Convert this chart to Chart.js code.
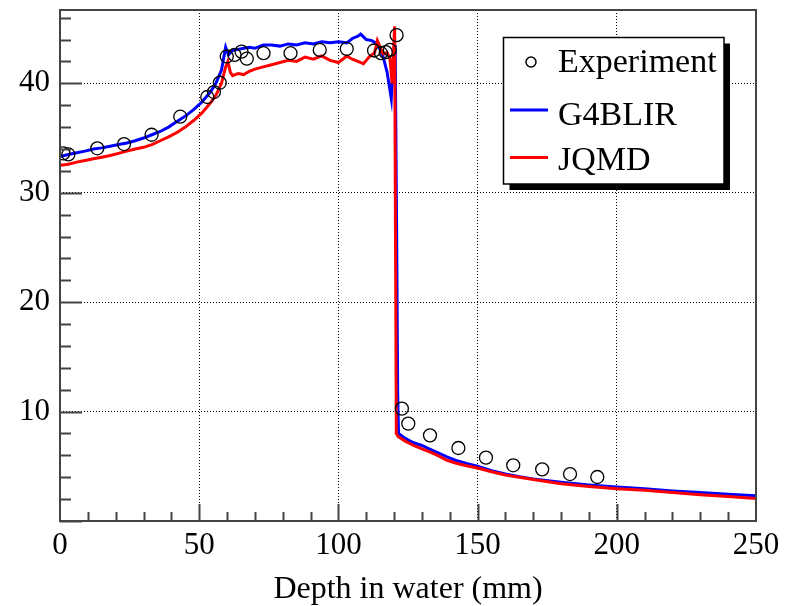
<!DOCTYPE html>
<html>
<head>
<meta charset="utf-8">
<script src="https://cdn.jsdelivr.net/npm/chart.js@4"></script>
<style>
  body { margin: 0; background: #fff; }
  canvas { display: block; }
</style>
</head>
<body>
<canvas id="doseChart" width="790" height="606"></canvas>
<script>
// Experiment (open circles)
const expDepth = [1.2, 3, 13.4, 23, 32.9, 43.2, 52.9, 55.3, 57.4, 59.9, 62.7, 65.2, 67.1, 73.1, 82.8, 93.3, 103, 112.8, 115.3, 117, 118.5, 120.9, 122.8, 125.1, 132.9, 143.1, 153, 162.8, 173.2, 183.2, 193];
const expDose = [33.6, 33.5, 34.06, 34.45, 35.3, 36.95, 38.75, 39.2, 40.05, 42.45, 42.6, 42.9, 42.25, 42.75, 42.75, 43.05, 43.15, 43.0, 42.75, 42.85, 43.05, 44.4, 10.27, 8.9, 7.83, 6.67, 5.79, 5.09, 4.72, 4.29, 4.02];

// G4BLIR (blue)
const g4Depth = [0, 3, 6, 9, 12, 15, 18, 21, 24, 27, 30, 33, 36, 39, 42, 45, 48, 51, 54, 56, 58, 59.5, 60.5, 62, 64, 66, 68, 70, 73, 76, 79, 82, 85, 88, 91, 94, 97, 100, 103, 105, 107, 108, 110, 112, 114, 116, 117.5, 119, 119.8, 120.4, 120.9, 121.3, 121.6, 124, 127, 130, 133, 136, 139, 142, 146, 150, 155, 160, 165, 170, 180, 190, 200, 210, 220, 230, 240, 250];
const g4Dose = [33.3, 33.5, 33.65, 33.8, 34.0, 34.1, 34.25, 34.4, 34.55, 34.75, 35.0, 35.3, 35.6, 36.0, 36.5, 37.0, 37.6, 38.3, 39.2, 40.0, 41.2, 43.3, 42.6, 43.0, 43.1, 43.2, 43.3, 43.2, 43.5, 43.5, 43.4, 43.6, 43.5, 43.7, 43.6, 43.8, 43.7, 43.8, 43.7, 44.1, 44.3, 44.5, 44.0, 43.9, 43.6, 42.5, 41.0, 38.6, 42.5, 43.5, 27.0, 11.6, 8.0, 7.55, 7.15, 6.9, 6.55, 6.2, 5.85, 5.55, 5.25, 5.0, 4.6, 4.3, 4.05, 3.85, 3.55, 3.3, 3.1, 2.95, 2.75, 2.6, 2.45, 2.3];

// JQMD (red)
const jqDepth = [0, 3, 6, 9, 12, 15, 18, 21, 24, 27, 30, 33, 36, 39, 42, 45, 48, 51, 54, 56, 58, 59.5, 60.3, 61.2, 62, 64, 66, 68, 70, 73, 76, 79, 82, 85, 88, 91, 94, 97, 100, 103, 105, 107, 109, 111, 113, 114, 116, 117.5, 118.5, 119.3, 120.2, 120.8, 121.5, 124, 127, 130, 133, 136, 139, 142, 146, 150, 155, 160, 165, 170, 180, 190, 200, 210, 220, 230, 240, 250];
const jqDose = [32.5, 32.6, 32.8, 32.95, 33.1, 33.25, 33.4, 33.6, 33.8, 34.0, 34.15, 34.4, 34.75, 35.1, 35.5, 36.0, 36.6, 37.3, 38.2, 38.9, 40.0, 41.5, 42.0, 41.0, 40.7, 40.9, 40.8, 41.1, 41.3, 41.5, 41.7, 41.9, 42.1, 42.0, 42.4, 42.2, 42.5, 42.1, 41.9, 42.5, 42.2, 42.0, 41.8, 42.4, 42.8, 43.9, 42.7, 42.8, 42.3, 40.0, 45.2, 8.0, 7.7, 7.3, 6.9, 6.6, 6.3, 5.95, 5.55, 5.3, 5.05, 4.85, 4.5, 4.2, 4.0, 3.8, 3.4, 3.15, 2.95, 2.8, 2.6, 2.4, 2.25, 2.05];

const xTickLabels = [0, 50, 100, 150, 200, 250];
const yTickLabels = [10, 20, 30, 40];
const legendLabels = ["Experiment", "G4BLIR", "JQMD"];

const toPoints = (xs, ys) => xs.map((x, i) => ({ x: x, y: ys[i] }));

Chart.defaults.font.family = "'Liberation Serif', 'DejaVu Serif', serif";
Chart.defaults.color = "#000";

// ROOT-like frame, inward ticks and shadowed legend
const rootStyle = {
  id: "rootStyle",
  afterDraw(chart) {
    const c = chart.ctx;
    const a = chart.chartArea;
    const xs = chart.scales.x, ys = chart.scales.y;
    c.save();
    c.strokeStyle = "#444";
    c.lineWidth = 2;
    c.strokeRect(a.left, a.top, a.right - a.left, a.bottom - a.top);

    c.beginPath();
    for (let v = 0; v <= 46; v += 2) {
      const p = Math.round(ys.getPixelForValue(v)) + 0.5;
      const len = v % 10 === 0 ? 22 : 11;
      c.moveTo(a.left, p);
      c.lineTo(a.left + len, p);
    }
    for (let v = 10; v < 250; v += 10) {
      const p = Math.round(xs.getPixelForValue(v)) + 0.5;
      const len = v % 50 === 0 ? 17 : 9;
      c.moveTo(p, a.bottom);
      c.lineTo(p, a.bottom - len);
    }
    c.stroke();

    // legend
    const lx = 503.5, ly = 37.5, lw = 220.5, lh = 146.5;
    c.fillStyle = "#000";
    c.fillRect(lx + 6, ly + 6, lw, lh);
    c.fillStyle = "#fff";
    c.fillRect(lx, ly, lw, lh);
    c.strokeStyle = "#000";
    c.lineWidth = 1.5;
    c.strokeRect(lx, ly, lw, lh);

    c.beginPath();
    c.arc(531, 62, 5, 0, Math.PI * 2);
    c.stroke();

    c.lineWidth = 3;
    c.strokeStyle = "#0000ff";
    c.beginPath(); c.moveTo(510, 110); c.lineTo(548, 110); c.stroke();
    c.strokeStyle = "#ff0000";
    c.beginPath(); c.moveTo(510, 157.5); c.lineTo(548, 157.5); c.stroke();

    c.fillStyle = "#000";
    c.font = "34px 'Liberation Serif'";
    c.textBaseline = "alphabetic";
    c.textAlign = "left";
    c.fillText(legendLabels[0], 558, 71.5);
    c.fillText(legendLabels[1], 558, 124.5);
    c.fillText(legendLabels[2], 558, 170);
    c.restore();
  }
};

new Chart(document.getElementById("doseChart"), {
  type: "line",
  data: {
    datasets: [
      {
        label: legendLabels[0],
        data: toPoints(expDepth, expDose),
        showLine: false,
        pointRadius: 6.5,
        pointBorderWidth: 1.3,
        pointBorderColor: "#000",
        pointBackgroundColor: "rgba(0,0,0,0)"
      },
      {
        label: legendLabels[2],
        data: toPoints(jqDepth, jqDose),
        borderColor: "#ff0000",
        borderWidth: 3,
        pointRadius: 0,
        tension: 0
      },
      {
        label: legendLabels[1],
        data: toPoints(g4Depth, g4Dose),
        borderColor: "#0000ff",
        borderWidth: 3,
        pointRadius: 0,
        tension: 0
      }
    ]
  },
  options: {
    responsive: false,
    animation: false,
    devicePixelRatio: 1,
    layout: { padding: { left: 0, right: 34, top: 10, bottom: 0 } },
    plugins: { legend: { display: false }, tooltip: { enabled: false } },
    scales: {
      x: {
        type: "linear",
        min: 0,
        max: 250,
        afterFit: s => { s.height = 85; },
        afterBuildTicks: s => { s.ticks = xTickLabels.map(v => ({ value: v })); },
        ticks: { font: { size: 31 }, padding: 6, maxRotation: 0 },
        grid: {
          drawTicks: false,
          lineWidth: 1,
          color: c => (c.tick && c.tick.value > 0 && c.tick.value < 250) ? "#000" : "rgba(0,0,0,0)"
        },
        border: { display: false, dash: [1, 2] },
        title: { display: true, text: "Depth in water (mm)", font: { size: 32, lineHeight: 1 }, padding: { top: 0, bottom: 0 } }
      },
      y: {
        type: "linear",
        min: 0,
        max: 46.7,
        afterFit: s => { s.width = 60; s.paddingTop = 0; s.paddingBottom = 0; },
        afterBuildTicks: s => { s.ticks = [0].concat(yTickLabels).map(v => ({ value: v })); },
        ticks: { font: { size: 31 }, padding: 10, callback: v => v === 0 ? "" : v },
        grid: {
          drawTicks: false,
          lineWidth: 1,
          color: c => (c.tick && c.tick.value > 0) ? "#000" : "rgba(0,0,0,0)"
        },
        border: { display: false, dash: [1, 2] }
      }
    }
  },
  plugins: [rootStyle]
});
</script>
</body>
</html>
